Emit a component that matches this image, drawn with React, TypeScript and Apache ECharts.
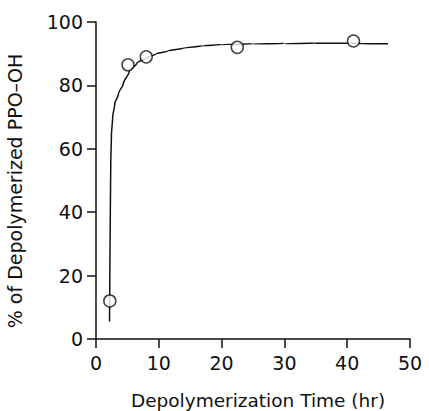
import React, { useEffect, useRef } from "react";
import * as echarts from "echarts";

// measured data points (hr, %)
const pointTimes = [2.2, 5.1, 8.0, 22.5, 41.0];
const pointValues = [12, 86.5, 89, 92, 94];

// fitted curve (hr, %)
const curveTimes = [2.15, 2.2, 2.28, 2.35, 2.45, 2.65, 3.0, 3.6, 4.35, 5.3, 6.5, 8, 9.5, 11.5, 14, 17, 20, 25, 30, 35, 40, 46.5];
const curveValues = [5.5, 20, 40, 55, 64, 70, 74.2, 77.5, 80.5, 84.5, 87, 88.7, 89.9, 90.9, 91.8, 92.5, 92.9, 93.1, 93.2, 93.3, 93.3, 93.1];

const xTicks = [0, 10, 20, 30, 40, 50];
const yTicks = [0, 20, 40, 60, 80, 100];

const xTitle = "Depolymerization Time (hr)";
const yTitle = "% of Depolymerized PPO\u2013OH";

export default function App() {
  const ref = useRef<HTMLDivElement>(null);
  useEffect(() => {
    if (!ref.current) return;
    const chart = echarts.init(ref.current, null, { renderer: "svg" });
    const font = "DejaVu Sans";
    const ink = "#111";
    chart.setOption({
      animation: false,
      backgroundColor: "#fff",
      grid: { left: 96, top: 22, width: 314, height: 317, containLabel: false },
      graphic: [
        {
          type: "text",
          x: 258,
          y: 400,
          style: {
            text: xTitle,
            fontFamily: font,
            fontSize: 18.5,
            fill: ink,
            textAlign: "center",
            textVerticalAlign: "middle",
            align: "center",
            verticalAlign: "middle",
          },
        },
        {
          type: "text",
          x: 15,
          y: 191,
          rotation: Math.PI / 2,
          style: {
            text: yTitle,
            fontFamily: font,
            fontSize: 19,
            fill: ink,
            textAlign: "center",
            textVerticalAlign: "middle",
            align: "center",
            verticalAlign: "middle",
          },
        },
      ],
      xAxis: {
        type: "value",
        min: xTicks[0],
        max: xTicks[xTicks.length - 1],
        interval: 10,
        axisLine: { onZero: false, lineStyle: { color: ink, width: 1.5 } },
        axisTick: { show: true, inside: false, length: 9, lineStyle: { color: ink, width: 1.5 } },
        axisLabel: { fontFamily: font, fontSize: 19, color: ink, margin: 14 },
        splitLine: { show: false },
      },
      yAxis: {
        type: "value",
        min: yTicks[0],
        max: yTicks[yTicks.length - 1],
        interval: 20,
        axisLine: { show: true, onZero: false, lineStyle: { color: ink, width: 1.5 } },
        axisTick: { show: true, inside: false, length: 9, lineStyle: { color: ink, width: 1.5 } },
        axisLabel: { fontFamily: font, fontSize: 19, color: ink, margin: 13 },
        splitLine: { show: false },
      },
      series: [
        {
          type: "line",
          data: curveTimes.map((t, i) => [t, curveValues[i]]),
          showSymbol: false,
          symbol: "none",
          smooth: 0.3,
          smoothMonotone: "y",
          lineStyle: { color: ink, width: 1.5 },
          z: 2,
        },
        {
          type: "scatter",
          data: pointTimes.map((t, i) => [t, pointValues[i]]),
          symbol: "circle",
          symbolSize: 12,
          itemStyle: { color: "#fff", borderColor: ink, borderWidth: 1.5 },
          z: 3,
        },
      ],
    });
    return () => chart.dispose();
  }, []);
  return (
    <div
      ref={ref}
      style={{ position: "absolute", left: 0, top: 0, width: 429, height: 411 }}
    />
  );
}
